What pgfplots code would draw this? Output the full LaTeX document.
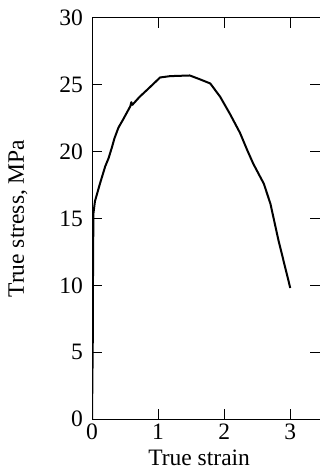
\documentclass[border=0pt]{standalone}
\usepackage{fontspec}
\setmainfont{Liberation Serif}
\usepackage{pgfplots}
\pgfplotsset{compat=1.18}
\begin{document}
\begin{tikzpicture}
\begin{axis}[
  scale only axis,
  width=114bp, height=200.5bp,
  xmin=0, xmax=3.45, ymin=0, ymax=30,
  xtick={0,1,2,3}, ytick={0,5,10,15,20,25,30},
  tick align=inside,
  major tick length=5bp,
  axis line style={line width=0.5bp},
  every tick/.style={line width=0.5bp, black},
  /pgf/number format/assume math mode=true,
  tick label style={font=\fontsize{11.8}{14}\selectfont},
  label style={font=\fontsize{11.8}{14}\selectfont},
  xlabel={True strain},
  ylabel={True stress, MPa},
  xlabel style={at={(axis description cs:0.47,-0.097)}, anchor=center},
  ylabel style={at={(axis description cs:-0.325,0.5)}, anchor=center},
  yticklabel style={xshift=-1bp},
  xticklabel style={yshift=1bp},
]
\addplot[black, line width=1bp, line join=round] coordinates {
(0,0) (0.012,6) (0.016,12) (0.022,15.4) (0.045,16.3) (0.12,17.6) (0.2,18.9) (0.25,19.5) (0.3,20.3) (0.34,21.0) (0.4,21.8) (0.47,22.4) (0.58,23.4) (0.595,23.7) (0.61,23.5) (0.72,24.1) (0.85,24.7) (1.03,25.55) (1.18,25.65) (1.48,25.7) (1.64,25.4) (1.79,25.1) (1.94,24.1) (2.09,22.8) (2.24,21.4) (2.35,20.1) (2.44,19.1) (2.6,17.6) (2.7,16.1) (2.82,13.4) (3.0,9.8)
};
\end{axis}
\pgfresetboundingbox
\path[use as bounding box] ([xshift=-46bp,yshift=-25.5bp]current axis.south west) rectangle ([yshift=9bp]current axis.north east);
\end{tikzpicture}
\end{document}
